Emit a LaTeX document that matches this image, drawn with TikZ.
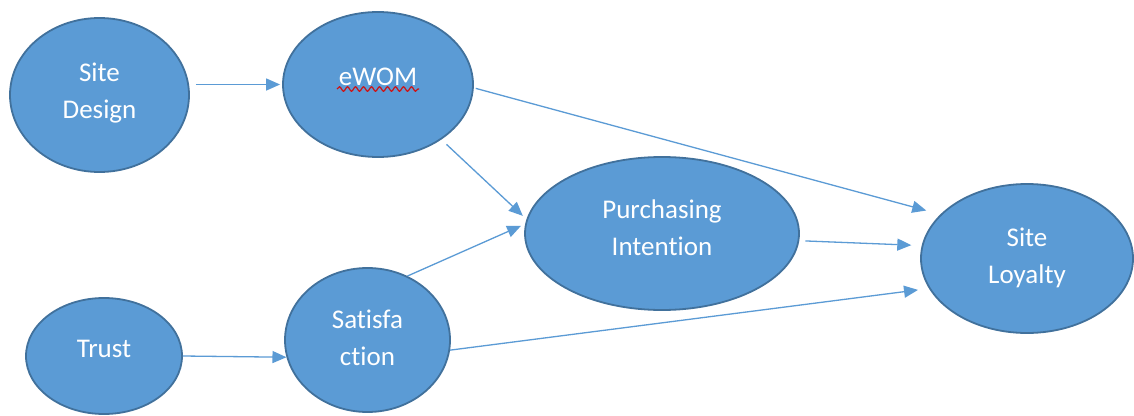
\documentclass[tikz,border=0pt]{standalone}
\usepackage{fontspec}
\setmainfont{Carlito}[Ligatures=NoCommon]
\usetikzlibrary{shapes.geometric,arrows.meta,decorations.pathmorphing}
\definecolor{bfill}{HTML}{5B9BD5}
\definecolor{bdraw}{HTML}{41719C}
\definecolor{aline}{HTML}{5B9BD5}
\definecolor{squigred}{HTML}{D01010}
\tikzset{
 oval/.style={ellipse, draw=bdraw, line width=1.8pt, fill=bfill, inner sep=0pt, text=white, align=center, font=\fontsize{27}{37.5}\selectfont},
 arr/.style={draw=aline, line width=1.3pt, -{Triangle[length=14pt,width=12pt]}},
 squig/.style={draw=squigred, line width=1.2pt, decorate, decoration={snake, amplitude=2.2pt, segment length=8pt}}
}
\begin{document}
\begin{tikzpicture}[x=1pt,y=-1pt]
\useasboundingbox (0,0) rectangle (1134,415);
\clip (0,0) rectangle (1134,415);
\fill[white] (0,0) rectangle (1134,415);
\node[oval, minimum width=179pt, minimum height=154pt, text height=60pt, text depth=13pt] (sd) at (99.5,95) {Site\\Design};
\node[oval, minimum width=190pt, minimum height=145pt, text height=17pt, text depth=16pt] (ewom) at (378,84.5) {eWOM};
\node[oval, minimum width=274pt, minimum height=153pt, text height=60pt, text depth=16pt] (pi) at (662,233.5) {Purchasing\\Intention};
\node[oval, minimum width=212pt, minimum height=149pt, text height=62pt, text depth=12pt] (sl) at (1027,258.5) {Site\\Loyalty};
\node[oval, minimum width=156pt, minimum height=116pt, text height=17pt, text depth=15pt] (trust) at (104,356) {Trust};
\node[oval, minimum width=165pt, minimum height=144pt, text height=63pt, text depth=12pt] (sat) at (367.5,340) {Satisfa\\ction};
\draw[squig] ([xshift=-41pt,yshift=-4.5pt]ewom.center) -- ([xshift=41pt,yshift=-4.5pt]ewom.center);
\draw[arr, shorten <=6pt, shorten >=2pt] (sd.east |- ewom.west) -- (ewom.west);
\draw[arr, shorten <=2pt, shorten >=14.6pt] (ewom.-2) -- (sl.153);
\draw[arr, shorten <=7pt, shorten >=5pt] (ewom.-41) -- (pi.174);
\draw[arr, shorten >=4.5pt] (sat.58) -- (pi.176);
\draw[arr, shorten <=6pt, shorten >=10.4pt] (pi.-3) -- (sl.173);
\draw[arr, shorten >=11pt] (sat.-7) -- (sl.197);
\draw[arr] (trust.east) -- (sat.192);
\end{tikzpicture}
\end{document}
